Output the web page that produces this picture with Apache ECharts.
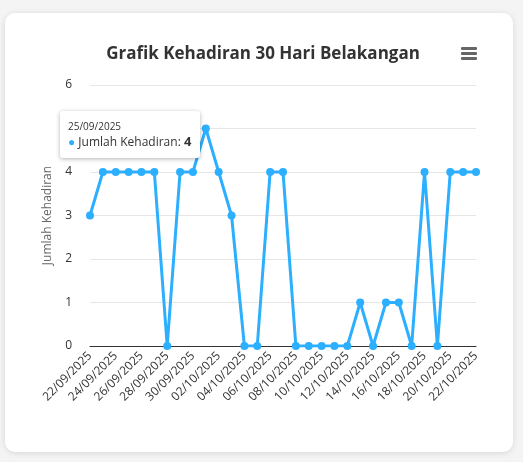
<!DOCTYPE html>
<html>
<head>
<meta charset="utf-8">
<script src="https://cdn.jsdelivr.net/npm/echarts@6/dist/echarts.min.js"></script>
<style>
  html, body { margin: 0; padding: 0; background: #f4f4f4; }
  #card { position: absolute; left: 5px; top: 13px; width: 508px; height: 439px; background: #fff;
          border-radius: 10px; box-shadow: 0 1px 6px rgba(0,0,0,0.12); }
  #chart { position: absolute; left: 0; top: 0; width: 523px; height: 462px; }
</style>
</head>
<body>
<div id="card"></div>
<div id="chart"></div>
<script>
// dates of the last 30 days
const dates = ["22/09/2025","23/09/2025","24/09/2025","25/09/2025","26/09/2025","27/09/2025","28/09/2025",
  "29/09/2025","30/09/2025","01/10/2025","02/10/2025","03/10/2025","04/10/2025","05/10/2025","06/10/2025",
  "07/10/2025","08/10/2025","09/10/2025","10/10/2025","11/10/2025","12/10/2025","13/10/2025","14/10/2025",
  "15/10/2025","16/10/2025","17/10/2025","18/10/2025","19/10/2025","20/10/2025","21/10/2025","22/10/2025"];
// attendance counts
const hadir = [3,4,4,4,4,4,0,4,4,5,4,3,0,0,4,4,0,0,0,0,0,1,0,1,1,0,4,0,4,4,4];
const seriesName = "Jumlah Kehadiran";
const FONT = "'Open Sans', 'Noto Sans', sans-serif";

const chart = echarts.init(document.getElementById("chart"));
chart.setOption({
    backgroundColor: "transparent",
    animation: false,
    title: {
        text: "Grafik Kehadiran 30 Hari Belakangan",
        left: 258, top: 41, textAlign: "center",
        textStyle: {fontFamily: FONT, fontSize: 17, fontWeight: "bold", color: "#333"}
    },
    graphic: [0, 1, 2].map(i => ({
        type: "rect", shape: {x: 461, y: 47 + i * 5, width: 16, height: 3, r: 1},
        style: {fill: "#666"}
    })),
    grid: {left: 90, right: 47, top: 85, bottom: 116},
    tooltip: {
        trigger: "item",
        alwaysShowContent: true,
        position: () => [60, 111],
        backgroundColor: "#fff",
        borderWidth: 0,
        padding: [8, 8],
        extraCssText: "box-shadow:0 1px 4px rgba(0,0,0,0.3);border-radius:3px;width:124px;",
        formatter: p => `<div style="font-size:10px;color:#333;line-height:14px;font-family:${FONT}">${dates[p.dataIndex]}</div>` +
            `<div style="font-size:12px;color:#333;line-height:16px;font-family:${FONT}"><span style="color:#2caffe">●</span> ${seriesName}: <b style="font-size:13px">${p.value}</b></div>`
    },
    xAxis: {
        type: "category", data: dates, boundaryGap: false,
        axisLine: {lineStyle: {color: "#333"}},
        axisTick: {show: false},
        axisLabel: {interval: 1, rotate: 45, color: "#333", fontSize: 12, fontFamily: FONT, margin: 8}
    },
    yAxis: {
        type: "value", min: 0, max: 6, interval: 1,
        name: seriesName, nameLocation: "middle", nameGap: 36,
        nameTextStyle: {color: "#666", fontSize: 12, fontFamily: FONT},
        axisLabel: {color: "#333", fontSize: 12, fontFamily: FONT, margin: 18},
        splitLine: {lineStyle: {color: "#e6e6e6"}}
    },
    series: [{
        name: seriesName, type: "line", data: hadir,
        symbol: "circle", symbolSize: 8, showAllSymbol: true,
        lineStyle: {width: 3, color: "#2caffe"},
        itemStyle: {color: "#2caffe"}
    }]
});
chart.dispatchAction({type: "showTip", seriesIndex: 0, dataIndex: 3});
</script>
</body>
</html>
